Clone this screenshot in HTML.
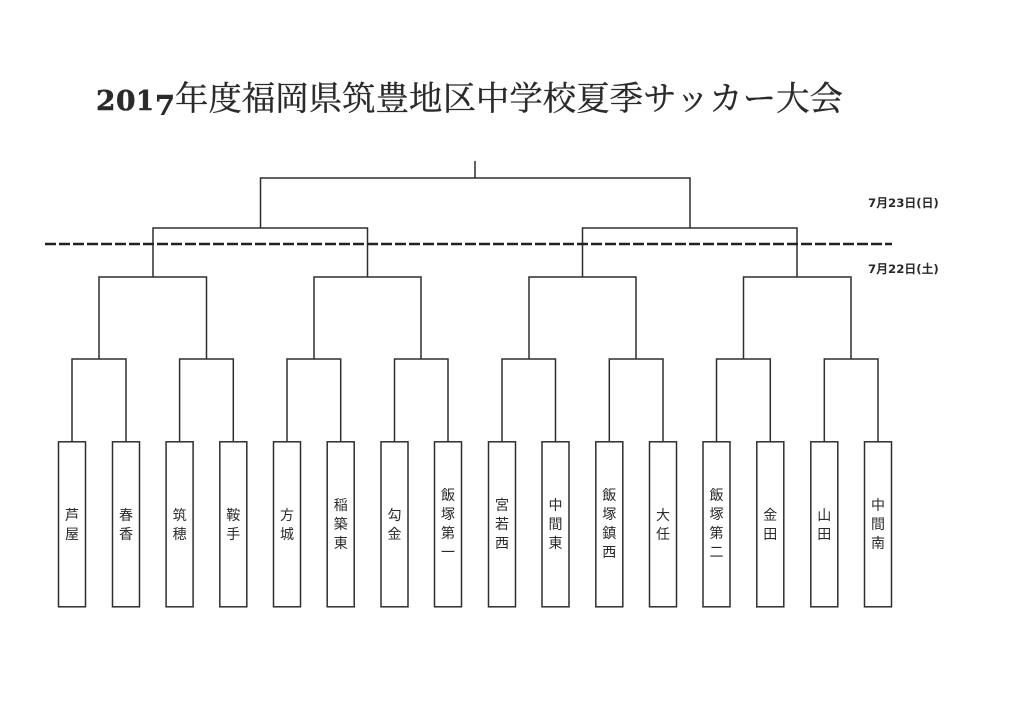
<!DOCTYPE html>
<html lang="ja">
<head>
<meta charset="utf-8">
<title>2017年度福岡県筑豊地区中学校夏季サッカー大会</title>
<style>
html,body{margin:0;padding:0;background:#fff;width:1024px;height:724px;overflow:hidden}
svg{display:block}
.t{font-family:"Liberation Serif","Noto Serif CJK SC",serif;font-size:33.4px;fill:#2a2a2a;stroke:#2a2a2a;stroke-width:.35}
.d{font-family:"DejaVu Serif",serif;font-weight:bold;font-size:27px;fill:#2a2a2a;stroke:#2a2a2a;stroke-width:.5}
.n{font-family:"Liberation Sans","Noto Sans CJK JP",sans-serif;font-size:14px;fill:#2a2a2a;text-anchor:middle;dominant-baseline:central}
.l{font-family:"DejaVu Sans","Noto Sans CJK JP",sans-serif;font-weight:bold;font-size:11.8px;fill:#2a2a2a}
.c{fill:none;stroke:#2e2e2e;stroke-width:1.5}
</style>
</head>
<body>
<svg width="1024" height="724" viewBox="0 0 1024 724" xmlns="http://www.w3.org/2000/svg">
<text class="d" x="96" y="110" textLength="19.5" lengthAdjust="spacingAndGlyphs">2</text><text class="d" x="116" y="110" textLength="19.5" lengthAdjust="spacingAndGlyphs">0</text><text class="d" x="136" y="110" textLength="18" lengthAdjust="spacingAndGlyphs">1</text><text class="d" x="155" y="115" textLength="20" lengthAdjust="spacingAndGlyphs">7</text>
<text class="t" x="175" y="110" textLength="668">年度福岡県筑豊地区中学校夏季サッカー大会</text>
<text class="l" x="868" y="207">7月23日(日)</text>
<text class="l" x="868" y="273">7月22日(土)</text>

<path class="c" d="M475 161V178M260.5 228V178H690V228
M153 277V228H367.5V277M582.5 277V228H797V277
M99 359V277H206.5V359M314 359V277H421V359M529 359V277H636V359M743.5 359V277H851V359
M72 442V359H126V442M179.6 442V359H233.3V442M287 442V359H340.7V442M394.5 442V359H448V442
M502 442V359H555.5V442M609.3 442V359H663V442M716.5 442V359H770.3V442M824.3 442V359H878V442"/>
<path d="M45 244H892" fill="none" stroke="#222" stroke-width="2.4" stroke-dasharray="11 3"/>

<g class="c">
<rect x="58.5" y="441.8" width="27" height="165"/>
<rect x="112.5" y="441.8" width="27" height="165"/>
<rect x="166.1" y="441.8" width="27" height="165"/>
<rect x="219.8" y="441.8" width="27" height="165"/>
<rect x="273.5" y="441.8" width="27" height="165"/>
<rect x="327.2" y="441.8" width="27" height="165"/>
<rect x="381" y="441.8" width="27" height="165"/>
<rect x="434.5" y="441.8" width="27" height="165"/>
<rect x="488.5" y="441.8" width="27" height="165"/>
<rect x="542" y="441.8" width="27" height="165"/>
<rect x="595.8" y="441.8" width="27" height="165"/>
<rect x="649.5" y="441.8" width="27" height="165"/>
<rect x="703" y="441.8" width="27" height="165"/>
<rect x="756.8" y="441.8" width="27" height="165"/>
<rect x="810.8" y="441.8" width="27" height="165"/>
<rect x="864.5" y="441.8" width="27" height="165"/>
</g>

<g class="n">
<text class="n" x="72" y="515">芦</text><text class="n" x="72" y="534">屋</text>
<text class="n" x="126" y="515">春</text><text class="n" x="126" y="534">香</text>
<text class="n" x="179.6" y="515">筑</text><text class="n" x="179.6" y="534">穂</text>
<text class="n" x="233.3" y="515">鞍</text><text class="n" x="233.3" y="534">手</text>
<text class="n" x="287" y="515">方</text><text class="n" x="287" y="534">城</text>
<text class="n" x="340.7" y="505">稲</text><text class="n" x="340.7" y="524">築</text><text class="n" x="340.7" y="543">東</text>
<text class="n" x="394.5" y="515">勾</text><text class="n" x="394.5" y="534">金</text>
<text class="n" x="448" y="495">飯</text><text class="n" x="448" y="514">塚</text><text class="n" x="448" y="533">第</text><text class="n" x="448" y="552">一</text>
<text class="n" x="502" y="505">宮</text><text class="n" x="502" y="524">若</text><text class="n" x="502" y="543">西</text>
<text class="n" x="555.5" y="505">中</text><text class="n" x="555.5" y="524">間</text><text class="n" x="555.5" y="543">東</text>
<text class="n" x="609.3" y="495">飯</text><text class="n" x="609.3" y="514">塚</text><text class="n" x="609.3" y="533">鎮</text><text class="n" x="609.3" y="552">西</text>
<text class="n" x="663" y="515">大</text><text class="n" x="663" y="534">任</text>
<text class="n" x="716.5" y="495">飯</text><text class="n" x="716.5" y="514">塚</text><text class="n" x="716.5" y="533">第</text><text class="n" x="716.5" y="552">二</text>
<text class="n" x="770.3" y="515">金</text><text class="n" x="770.3" y="534">田</text>
<text class="n" x="824.3" y="515">山</text><text class="n" x="824.3" y="534">田</text>
<text class="n" x="878" y="505">中</text><text class="n" x="878" y="524">間</text><text class="n" x="878" y="543">南</text>
</g>
</svg>
</body>
</html>
